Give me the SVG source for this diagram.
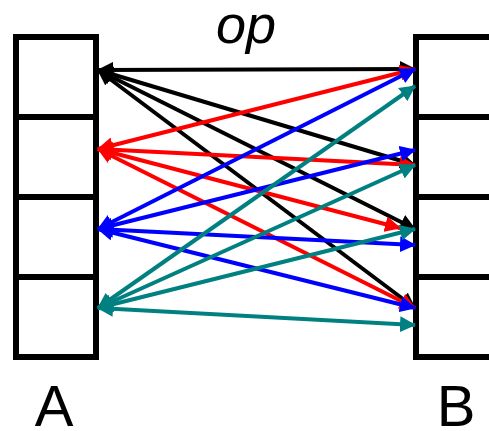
<svg xmlns="http://www.w3.org/2000/svg" width="489" height="431" viewBox="0 0 489 431">
<defs>
<style>
.box{fill:#fff;stroke:#000;stroke-width:6}
.div{stroke:#000;stroke-width:6}
.ln{stroke-width:4;fill:none}
.k{stroke:#000}
.r{stroke:#FF0000}
.b{stroke:#0000FF}
.t{stroke:#008080}
.lbl{font-family:"Liberation Sans",Arial,sans-serif;fill:#000}
</style>
<marker id="hk" viewBox="0 0 16 16" refX="15" refY="8" markerWidth="16" markerHeight="16" markerUnits="userSpaceOnUse" orient="auto-start-reverse"><path d="M0,0 L16,8 L0,16 z" fill="#000"/></marker>
<marker id="hr" viewBox="0 0 16 16" refX="15" refY="8" markerWidth="16" markerHeight="16" markerUnits="userSpaceOnUse" orient="auto-start-reverse"><path d="M0,0 L16,8 L0,16 z" fill="#FF0000"/></marker>
<marker id="hb" viewBox="0 0 16 16" refX="15" refY="8" markerWidth="16" markerHeight="16" markerUnits="userSpaceOnUse" orient="auto-start-reverse"><path d="M0,0 L16,8 L0,16 z" fill="#0000FF"/></marker>
<marker id="ht" viewBox="0 0 16 16" refX="15" refY="8" markerWidth="16" markerHeight="16" markerUnits="userSpaceOnUse" orient="auto-start-reverse"><path d="M0,0 L16,8 L0,16 z" fill="#008080"/></marker>
</defs>
<g id="A">
<rect class="box" x="16" y="37" width="80" height="320"/>
<line class="div" x1="16" y1="117" x2="96" y2="117"/>
<line class="div" x1="16" y1="197" x2="96" y2="197"/>
<line class="div" x1="16" y1="277" x2="96" y2="277"/>
<text class="lbl" x="54" y="426" font-size="58" text-anchor="middle">A</text>
</g>
<g id="B">
<rect class="box" x="416" y="37" width="80" height="320"/>
<line class="div" x1="416" y1="117" x2="496" y2="117"/>
<line class="div" x1="416" y1="197" x2="496" y2="197"/>
<line class="div" x1="416" y1="277" x2="496" y2="277"/>
<text class="lbl" x="456" y="426" font-size="58" text-anchor="middle">B</text>
</g>
<g id="op-label">
<text class="lbl" x="246" y="43" font-size="54" font-style="italic" text-anchor="middle">op</text>
</g>
<g id="connectors">
<line class="ln k" x1="98" y1="70" x2="415" y2="69" marker-start="url(#hk)" marker-end="url(#hk)"/>
<line class="ln k" x1="98" y1="70" x2="415" y2="165" marker-start="url(#hk)" marker-end="url(#hk)"/>
<line class="ln k" x1="98" y1="70" x2="415" y2="229" marker-start="url(#hk)" marker-end="url(#hk)"/>
<line class="ln k" x1="98" y1="70" x2="415" y2="308" marker-start="url(#hk)" marker-end="url(#hk)"/>
<line class="ln r" x1="98" y1="149" x2="415" y2="69" marker-start="url(#hr)" marker-end="url(#hr)"/>
<line class="ln r" x1="98" y1="149" x2="415" y2="165" marker-start="url(#hr)" marker-end="url(#hr)"/>
<line class="ln r" x1="98" y1="149" x2="400" y2="228" marker-start="url(#hr)" marker-end="url(#hr)"/>
<line class="ln r" x1="98" y1="149" x2="415" y2="308" marker-start="url(#hr)" marker-end="url(#hr)"/>
<line class="ln b" x1="98" y1="229" x2="415" y2="69" marker-start="url(#hb)" marker-end="url(#hb)"/>
<line class="ln b" x1="98" y1="229" x2="415" y2="150" marker-start="url(#hb)" marker-end="url(#hb)"/>
<line class="ln b" x1="98" y1="229" x2="415" y2="245" marker-start="url(#hb)" marker-end="url(#hb)"/>
<line class="ln b" x1="98" y1="229" x2="415" y2="308" marker-start="url(#hb)" marker-end="url(#hb)"/>
<line class="ln t" x1="98" y1="308" x2="415" y2="86" marker-start="url(#ht)" marker-end="url(#ht)"/>
<line class="ln t" x1="98" y1="308" x2="415" y2="165" marker-start="url(#ht)" marker-end="url(#ht)"/>
<line class="ln t" x1="98" y1="308" x2="415" y2="229" marker-start="url(#ht)" marker-end="url(#ht)"/>
<line class="ln t" x1="98" y1="308" x2="415" y2="325" marker-start="url(#ht)" marker-end="url(#ht)"/>
</g>
</svg>
